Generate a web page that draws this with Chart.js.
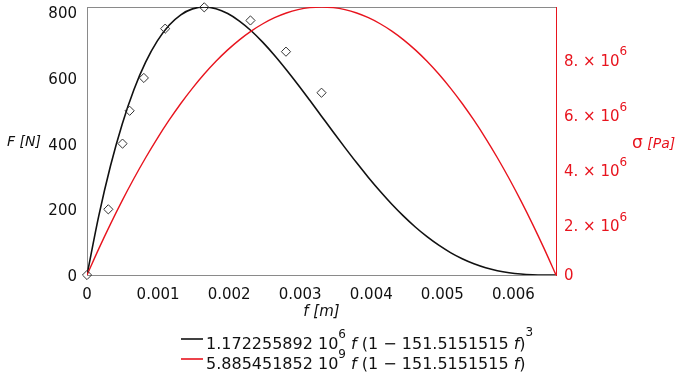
<!DOCTYPE html>
<html>
<head>
<meta charset="utf-8">
<script src="https://cdn.jsdelivr.net/npm/chart.js@4.4.1/dist/chart.umd.min.js"></script>
<style>
  html, body { margin: 0; padding: 0; background: #fff; }
  #wrap { width: 680px; height: 383px; }
</style>
</head>
<body>
<div id="wrap"><canvas id="chart" width="680" height="383"></canvas></div>
<script>
// deflection f [m] where the fitted curves are read
const fValues = [0, 0.000165, 0.00033, 0.000495, 0.00066, 0.000825, 0.00099, 0.001155, 0.00132, 0.001485,
  0.00165, 0.001815, 0.00198, 0.002145, 0.00231, 0.002475, 0.00264, 0.002805, 0.00297, 0.003135,
  0.0033, 0.003465, 0.00363, 0.003795, 0.00396, 0.004125, 0.00429, 0.004455, 0.00462, 0.004785,
  0.00495, 0.005115, 0.00528, 0.005445, 0.00561, 0.005775, 0.00594, 0.006105, 0.00627, 0.006435, 0.0066];
// force curve F [N] (black)
const forceFit = [0, 179.3, 331.7, 459.3, 564.0, 647.9, 712.7, 760.3, 792.3, 810.3,
  816.0, 810.8, 796.1, 773.3, 743.7, 708.3, 668.5, 625.1, 579.3, 531.8,
  483.6, 435.3, 387.8, 341.5, 297.1, 255.0, 215.6, 179.3, 146.2, 116.7,
  90.7, 68.3, 49.5, 34.2, 22.2, 13.2, 7.0, 3.0, 0.9, 0.1, 0];
// stress curve sigma [Pa] (red)
const stressFit = [0, 946800, 1845100, 2694800, 3496000, 4248600, 4952600, 5608100, 6215000, 6773400,
  7283200, 7744500, 8157200, 8521400, 8837000, 9104100, 9322600, 9492500, 9613900, 9686700,
  9711000, 9686700, 9613900, 9492500, 9322600, 9104100, 8837000, 8521400, 8157200, 7744500,
  7283200, 6773400, 6215000, 5608100, 4952600, 4248600, 3496000, 2694800, 1845100, 946800, 0];
// measured points (diamonds)
const fMeasured = [0, 0.0003, 0.0005, 0.0006, 0.0008, 0.0011, 0.00165, 0.0023, 0.0028, 0.0033];
const forceMeasured = [0, 200, 400, 500, 600, 750, 815, 775, 680, 555];

const xTicks = [0, 0.001, 0.002, 0.003, 0.004, 0.005, 0.006];
const forceTicks = [0, 200, 400, 600, 800];
const stressTicks = [0, 2e6, 4e6, 6e6, 8e6];

const FONT = '"DejaVu Sans", Verdana, sans-serif';
const RED = '#e8141e';
const GRAY = '#8a8a8a';

function pts(xs, ys) {
  return xs.map((x, i) => ({ x: x, y: ys[i] }));
}

// draws a row of text pieces with different fonts / raise
function drawRuns(ctx, x, y, runs, color) {
  ctx.fillStyle = color;
  ctx.textBaseline = 'middle';
  ctx.textAlign = 'left';
  runs.forEach(r => {
    ctx.font = r.font;
    ctx.fillText(r.t, x, y + (r.dy || 0));
    x += ctx.measureText(r.t).width;
  });
}

const decorPlugin = {
  id: 'decor',
  beforeDatasetsDraw(chart) {
    const ctx = chart.ctx;
    const a = chart.chartArea;
    ctx.save();
    ctx.strokeStyle = GRAY;
    ctx.lineWidth = 1;
    ctx.beginPath();
    ctx.moveTo(a.left, a.top + 0.5);
    ctx.lineTo(a.right, a.top + 0.5);
    ctx.stroke();
    ctx.restore();
  },
  afterDraw(chart) {
    const ctx = chart.ctx;
    const y2 = chart.scales.y2;
    ctx.save();

    // right axis tick labels with superscript exponents
    stressTicks.forEach(v => {
      const py = y2.getPixelForValue(v);
      if (v === 0) {
        drawRuns(ctx, 564, py + 1.5, [{ t: '0', font: '15px ' + FONT }], RED);
      } else {
        drawRuns(ctx, 564, py + 7.5, [
          { t: (v / 1e6) + '. \u00d7 10', font: '15px ' + FONT },
          { t: '6', font: '12px ' + FONT, dy: -9.5 }
        ], RED);
      }
    });

    // axis titles
    drawRuns(ctx, 7, 142, [{ t: 'F [N]', font: 'italic 14px ' + FONT }], '#111');
    drawRuns(ctx, 632, 144, [
      { t: '\u03c3', font: '17px ' + FONT },
      { t: ' [Pa]', font: 'italic 14px ' + FONT }
    ], RED);

    // legend
    const rows = [
      { color: '#111', y: 345, exp: '6', coef: '1.172255892 10', tail: '3' },
      { color: RED, y: 365, exp: '9', coef: '5.885451852 10', tail: '' }
    ];
    rows.forEach(r => {
      ctx.strokeStyle = r.color;
      ctx.lineWidth = 1.6;
      ctx.beginPath();
      ctx.moveTo(181, r.y - 6);
      ctx.lineTo(203, r.y - 6);
      ctx.stroke();
      const runs = [
        { t: r.coef, font: '16px ' + FONT },
        { t: r.exp, font: '12px ' + FONT, dy: -10 },
        { t: ' ', font: '16px ' + FONT },
        { t: 'f', font: 'italic 16px ' + FONT },
        { t: ' (1 \u2212 151.5151515 ', font: '16px ' + FONT },
        { t: 'f', font: 'italic 16px ' + FONT },
        { t: ')', font: '16px ' + FONT }
      ];
      if (r.tail) runs.push({ t: r.tail, font: '12px ' + FONT, dy: -12 });
      drawRuns(ctx, 206, r.y, runs, '#111');
    });
    ctx.restore();
  }
};

new Chart(document.getElementById('chart'), {
  type: 'line',
  data: {
    datasets: [
      {
        type: 'scatter',
        label: 'measured',
        data: pts(fMeasured, forceMeasured),
        yAxisID: 'y',
        pointStyle: 'rectRot',
        pointRadius: 4.6,
        pointBorderWidth: 1,
        pointBorderColor: '#333',
        pointBackgroundColor: 'rgba(255,255,255,0)',
        clip: false,
        order: 0
      },
      {
        label: '1.172255892 10^6 f (1 - 151.5151515 f)^3',
        data: pts(fValues, forceFit),
        yAxisID: 'y',
        borderColor: '#111',
        borderWidth: 1.6,
        pointRadius: 0,
        cubicInterpolationMode: 'monotone',
        order: 2
      },
      {
        label: '5.885451852 10^9 f (1 - 151.5151515 f)',
        data: pts(fValues, stressFit),
        yAxisID: 'y2',
        borderColor: RED,
        borderWidth: 1.4,
        pointRadius: 0,
        cubicInterpolationMode: 'monotone',
        order: 1
      }
    ]
  },
  options: {
    responsive: false,
    animation: false,
    devicePixelRatio: 1,
    layout: { autoPadding: false, padding: { top: 7, left: 0, right: 0, bottom: 62 } },
    plugins: { legend: { display: false }, tooltip: { enabled: false } },
    scales: {
      x: {
        type: 'linear',
        min: 0,
        max: 0.0066,
        afterBuildTicks: s => { s.ticks = xTicks.map(v => ({ value: v })); },
        afterFit: s => { s.height = 46; },
        grid: { display: false, drawTicks: false },
        border: { display: true, color: GRAY, width: 1 },
        ticks: {
          padding: 16,
          color: '#111',
          font: { family: FONT, size: 15, lineHeight: 0.5 },
          maxRotation: 0,
          callback: v => String(v)
        },
        title: {
          display: true,
          text: 'f [m]',
          color: '#111',
          font: { family: FONT, size: 15, style: 'italic' },
          padding: { top: 0, bottom: 0 }
        }
      },
      y: {
        type: 'linear',
        position: 'left',
        min: 0,
        max: 816,
        afterBuildTicks: s => { s.ticks = forceTicks.map(v => ({ value: v })); },
        afterFit: s => { s.width = 87; },
        grid: {
          display: true,
          drawOnChartArea: false,
          drawTicks: true,
          tickLength: 10,
          tickColor: 'rgba(0,0,0,0)',
          color: 'rgba(0,0,0,0)'
        },
        border: { display: true, color: GRAY, width: 1 },
        ticks: {
          padding: 0,
          labelOffset: 2,
          color: '#111',
          font: { family: FONT, size: 15, lineHeight: 0.5 }
        }
      },
      y2: {
        type: 'linear',
        position: 'right',
        min: 0,
        max: 9711000,
        afterBuildTicks: s => { s.ticks = stressTicks.map(v => ({ value: v })); },
        afterFit: s => { s.width = 124; },
        grid: { display: false, drawTicks: false },
        border: { display: true, color: RED, width: 1 },
        ticks: { display: false }
      }
    }
  },
  plugins: [decorPlugin]
});
</script>
</body>
</html>
